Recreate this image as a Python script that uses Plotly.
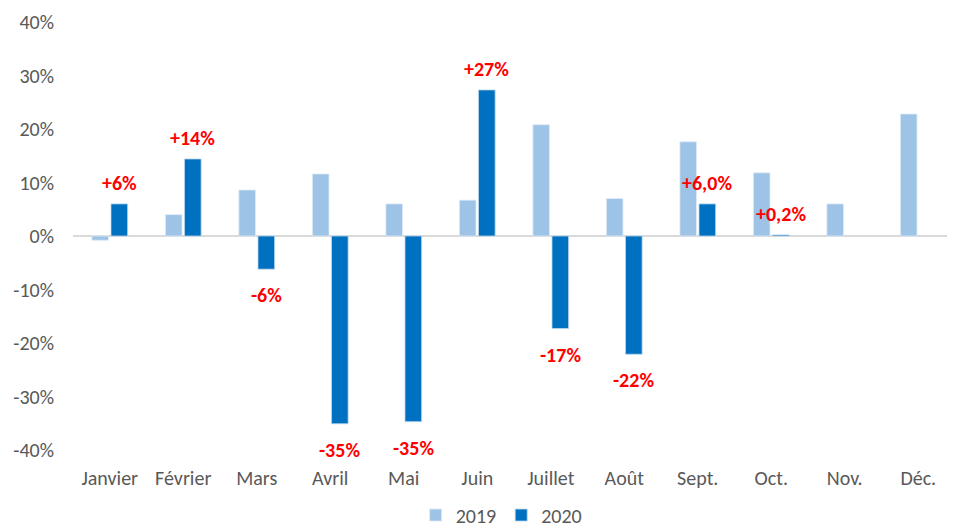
import plotly.graph_objects as go

months = ["Janvier", "Février", "Mars", "Avril", "Mai", "Juin", "Juillet", "Août", "Sept.", "Oct.", "Nov.", "Déc."]
v2019 = [-0.008, 0.040, 0.086, 0.116, 0.060, 0.067, 0.208, 0.070, 0.176, 0.118, 0.060, 0.228]
v2020 = [0.060, 0.144, -0.062, -0.351, -0.347, 0.273, -0.173, -0.221, 0.060, 0.002, None, None]
labels2020 = ["+6%", "+14%", "-6%", "-35%", "-35%", "+27%", "-17%", "-22%", "+6,0%", "+0,2%", "", ""]
y_ticks = [-0.4, -0.3, -0.2, -0.1, 0.0, 0.1, 0.2, 0.3, 0.4]
y_tick_labels = ["-40%", "-30%", "-20%", "-10%", "0%", "10%", "20%", "30%", "40%"]

FONT = "Carlito, Lato, 'Liberation Sans', sans-serif"
xs = list(range(len(months)))

fig = go.Figure()
fig.add_trace(go.Bar(x=xs, y=v2019, name="2019", marker=dict(color="#9DC3E6", line=dict(color="#DEEBF7", width=0.8))))
fig.add_trace(go.Bar(x=xs, y=v2020, name="2020", marker=dict(color="#0070C0", line=dict(color="#BDD7EE", width=0.8))))

for i, (v, t) in enumerate(zip(v2020, labels2020)):
    if v is None or not t:
        continue
    fig.add_annotation(x=i + 0.13, y=v, xref="x", yref="y", text=t, showarrow=False,
                       yshift=21 if v >= 0 else -26, yanchor="middle",
                       font=dict(family=FONT, size=20, color="#FF0000", weight="bold"))

# page body has an 8px margin, so the figure is sized/offset to compensate
fig.update_layout(
    width=947, height=520,
    margin=dict(l=65, r=0, t=14, b=78, autoexpand=False),
    paper_bgcolor="white", plot_bgcolor="white",
    barmode="group", bargap=0.48, bargroupgap=0.13,
    font=dict(family=FONT, size=20, color="#595959"),
    showlegend=True,
    legend=dict(orientation="h", x=0.486, xanchor="center", y=-0.152, yanchor="middle",
                font=dict(family=FONT, size=20, color="#595959"), itemwidth=30),
)
fig.update_xaxes(tickmode="array", tickvals=xs, ticktext=months, range=[-0.5, 11.5], automargin=False,
                 showgrid=False, showline=False, zeroline=False, ticks="",
                 ticklabelstandoff=14, tickfont=dict(family=FONT, size=20, color="#595959"))
fig.update_yaxes(range=[-0.4, 0.4], tickmode="array", tickvals=y_ticks, ticktext=y_tick_labels, automargin=False,
                 showgrid=False, showline=False, zeroline=True, zerolinecolor="#D9D9D9", zerolinewidth=1.5,
                 ticks="", ticklabelstandoff=18, tickfont=dict(family=FONT, size=20, color="#595959"))

fig.write_html("out.html")
